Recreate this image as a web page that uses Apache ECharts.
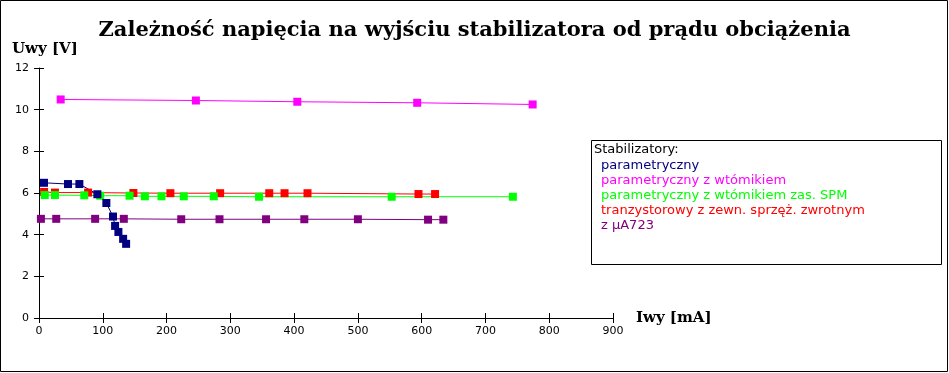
<!DOCTYPE html>
<html><head><meta charset="utf-8">
<script src="https://cdn.jsdelivr.net/npm/echarts@6/dist/echarts.min.js"></script>
<style>html,body{margin:0;padding:0;background:#fff}#c{width:949px;height:373px}</style>
</head><body><div id="c"></div>
<script>
const xTicks = [0,100,200,300,400,500,600,700,800,900];
const yTicks = [0,2,4,6,8,10,12];
const seriesNames = ['parametryczny','parametryczny z wtómikiem','parametryczny z wtómikiem zas. SPM','tranzystorowy z zewn. sprzęż. zwrotnym','z μA723'];
const xParam = [7.8,45.5,63.3,91.5,105.6,116,119.3,124.5,131.9,136.6];
const yParam = [6.49,6.43,6.43,5.94,5.52,4.87,4.42,4.13,3.80,3.56];
const xWtor = [34,246,405,593,774];
const yWtor = [10.49,10.44,10.38,10.33,10.25];
const xSPM = [9,25,71,96,142,166,192,227,274,345,553,743];
const ySPM = [5.90,5.90,5.89,5.87,5.87,5.84,5.84,5.84,5.84,5.82,5.82,5.82];
const xTranz = [8,25,77,148,206,284,361,385,421,595,621];
const yTranz = [6.05,6.02,6.02,6.00,5.99,5.99,5.99,5.99,5.99,5.95,5.95];
const xUA = [3,27,88,133,223,283,356,416,500,610,634];
const yUA = [4.76,4.76,4.76,4.76,4.74,4.74,4.74,4.74,4.74,4.72,4.72];

const colors = ['#000080','#ff00ff','#00ff00','#ff0000','#800080'];
const pairs = (xs, ys) => xs.map((x, i) => [x, ys[i]]);
const datasets = [pairs(xParam,yParam), pairs(xWtor,yWtor), pairs(xSPM,ySPM), pairs(xTranz,yTranz), pairs(xUA,yUA)];
const drawOrder = [4,3,2,1,0];

const chart = echarts.init(document.getElementById('c'));
const axisLine = {show:true, lineStyle:{color:'#000', width:1}};
const labelStyle = {color:'#000', fontSize:11, fontFamily:'DejaVu Sans'};
chart.setOption({
  animation:false,
  backgroundColor:'#fff',
  title:{text:'Zależność napięcia na wyjściu stabilizatora od prądu obciążenia', left:'center', top:20, padding:0,
    textStyle:{fontFamily:'DejaVu Serif', fontWeight:'bold', fontSize:21, color:'#000'}},
  grid:{left:39, right:336, top:68, bottom:55, containLabel:false},
  xAxis:[
    {type:'value', min:0, max:900, interval:100, axisLine, axisTick:{show:true, length:5, lineStyle:{color:'#000'}},
     axisLabel:{...labelStyle, margin:8}, splitLine:{show:false},
     name:'Iwy [mA]', nameLocation:'end', nameGap:23,
     nameTextStyle:{fontFamily:'DejaVu Serif', fontWeight:'bold', fontSize:15, color:'#000', verticalAlign:'middle'}},
    {type:'value', min:0, max:900, interval:100, position:'bottom', axisLine:{show:false},
     axisTick:{show:true, inside:true, length:5, lineStyle:{color:'#000'}}, axisLabel:{show:false}, splitLine:{show:false}}
  ],
  yAxis:[
    {type:'value', min:0, max:12, interval:2, axisLine, axisTick:{show:true, length:5, lineStyle:{color:'#000'}},
     axisLabel:{...labelStyle, margin:10}, splitLine:{show:false}},
    {type:'value', min:0, max:12, interval:2, position:'left', axisLine:{show:false},
     axisTick:{show:true, inside:true, length:5, lineStyle:{color:'#000'}}, axisLabel:{show:false}, splitLine:{show:false}}
  ],
  legend:{orient:'vertical', left:596, top:159, padding:0, itemGap:2, itemWidth:0, itemHeight:13, icon:'none',
    selectedMode:false,
    textStyle:{fontFamily:'DejaVu Sans', fontSize:13},
    data: seriesNames.map((n,i)=>({name:n, textStyle:{color:colors[i]}}))},
  graphic:[
    {type:'rect', z:-10, shape:{x:0.5, y:0.5, width:947, height:371}, style:{fill:'#fff', stroke:'#000', lineWidth:1}},
    {type:'rect', z:-5, shape:{x:591.5, y:140.5, width:350, height:124}, style:{fill:'#fff', stroke:'#000', lineWidth:1}},
    {type:'text', left:594, top:143, style:{text:'Stabilizatory:', fill:'#000', font:'13px "DejaVu Sans"'}},
    {type:'text', left:12, top:42, style:{text:'Uwy [V]', fill:'#000', font:'bold 15px "DejaVu Serif"'}}
  ],
  series: drawOrder.map(i => ({
    name: seriesNames[i], type:'line', data: datasets[i],
    symbol:'rect', symbolSize:8, showSymbol:true,
    lineStyle:{color:colors[i], width:1}, itemStyle:{color:colors[i]},
    emphasis:{disabled:true}
  }))
});
</script></body></html>
